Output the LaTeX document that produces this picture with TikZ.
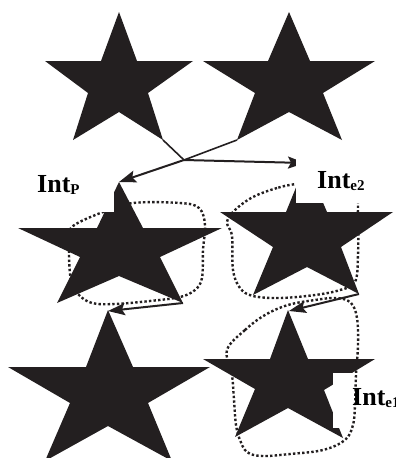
\documentclass[tikz,border=0pt]{standalone}
\usepackage{fontspec}
\setmainfont{Liberation Serif}
\usetikzlibrary{arrows.meta}
\definecolor{ink}{HTML}{231F20}
\begin{document}
\begin{tikzpicture}[x=1pt,y=-1pt,
  starshape/.style={fill=ink,draw=none},
  loopline/.style={draw=ink,line width=2.4pt,dash pattern=on 2.4pt off 2.2pt},
  link/.style={draw=ink,line width=2pt},
  arrowlink/.style={link,-{Stealth[length=17pt,width=12pt,inset=3pt]}},
  labelbox/.style={fill=white,draw=none,inner sep=0pt,anchor=north west},
  labeltext/.style={font=\bfseries\fontsize{26}{28}\selectfont,inner sep=0pt,anchor=base west}]
\useasboundingbox (0,0) rectangle (396,458);

% dotted loops (beneath the stars)
\draw[loopline] plot[smooth cycle,tension=0.6] coordinates {(73,226) (103,212) (133,203) (180,203) (199,208) (205,225) (203,250) (202,278) (195,290) (180,297) (150,301) (115,304) (92,303) (78,294) (71,280) (69,255) (70,238)};
\draw[loopline] plot[smooth cycle,tension=0.6] coordinates {(296,184) (277,188) (253,197) (235,210) (227,222) (232,236) (233,270) (240,288) (253,296) (280,298) (315,295) (340,290) (355,282) (358,255) (358,215) (356,195) (340,186) (315,183)};
\draw[loopline] plot[smooth cycle,tension=0.6] coordinates {(227,350) (245,330) (265,315) (288,305) (315,300) (337,298) (351,303) (357,318) (358,345) (356,375) (355,405) (353,425) (345,440) (323,450) (290,454) (262,456) (247,452) (240,440) (236,425) (234,400) (232,375)};

% stars
\fill[starshape] (119,12) -- (137,61) -- (193,61) -- (148,93) -- (163,140) -- (119,112) -- (73,140) -- (88,93) -- (45,61) -- (101,61) -- cycle;
\fill[starshape] (289,12) -- (310,61) -- (375,61) -- (323,93) -- (342,140) -- (289,112) -- (237,140) -- (255,93) -- (203,61) -- (268,61) -- cycle;
\fill[starshape] (119,182) -- (143,228) -- (222,228) -- (160,257) -- (183,303) -- (119,276) -- (57,303) -- (80,257) -- (18,228) -- (97,228) -- cycle;
\fill[starshape] (306,163) -- (327,212) -- (393,212) -- (341,247) -- (359,294) -- (307,267) -- (253,295) -- (273,247) -- (220,212) -- (286,212) -- cycle;
\fill[starshape] (108,310) -- (133,367) -- (210,367) -- (148,403) -- (172,461) -- (108,426) -- (45,461) -- (70,403) -- (8,367) -- (86,367) -- cycle;
\fill[starshape] (288,310) -- (308,359) -- (375,359) -- (324,390) -- (343,438) -- (288,408) -- (235,437) -- (255,389) -- (203,359) -- (270,359) -- cycle;

% connector end points
\coordinate (t1) at (163,140);
\coordinate (t2) at (237,140);
\coordinate (j) at (184,160);
\coordinate (m1top) at (119,182);
\coordinate (m2top) at (305,163);
\coordinate (m1br) at (183,303);
\coordinate (m2br) at (359,294);
\coordinate (b1top) at (108,311);
\coordinate (b2top) at (289,311);

% connectors
\draw[link,line width=1.6pt] (t1) -- (j);
\draw[link,line width=1.6pt] (t2) -- (j);
\draw[arrowlink] (j) -- (m1top);
\draw[arrowlink] (j) -- (m2top);
\draw[arrowlink] (m1br) -- (b1top);
\draw[arrowlink] (m2br) -- (b2top);

% label boxes
\node[labelbox,minimum width=114pt,minimum height=54pt] (pbox) at (0,158) {};
\node[labelbox,minimum width=100pt,minimum height=50pt] (e2box) at (296,153) {};
\node[labelbox,minimum width=86pt,minimum height=55pt] (e1box) at (333,373) {};
\begin{scope}
  \clip (333,373) rectangle (396,428);
  \draw[loopline] plot[smooth cycle,tension=0.6] coordinates {(227,350) (245,330) (265,315) (288,305) (315,300) (337,298) (351,303) (357,318) (358,345) (356,375) (355,405) (353,425) (345,440) (323,450) (290,454) (262,456) (247,452) (240,440) (236,425) (234,400) (232,375)};
\end{scope}

% labels
\node[labeltext] (lp) at (37,192) {Int\raisebox{-2.5pt}{\fontsize{15}{15}\selectfont P}};
\node[labeltext] (le2) at (317,188) {Int\raisebox{-2.5pt}{\fontsize{15}{15}\selectfont e2}};
\node[labeltext] (le1) at (352,405) {Int\raisebox{-2.5pt}{\fontsize{15}{15}\selectfont e1}};
\end{tikzpicture}
\end{document}
